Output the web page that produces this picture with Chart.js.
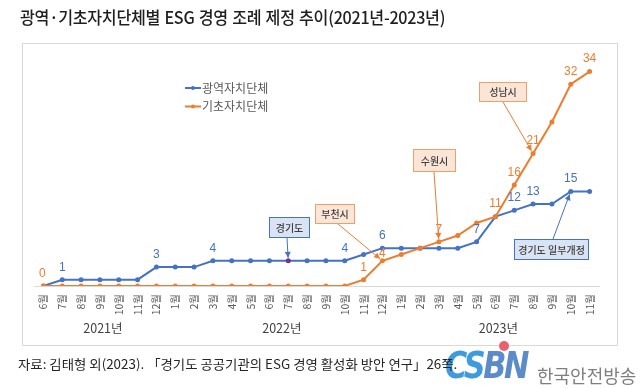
<!DOCTYPE html>
<html><head><meta charset="utf-8">
<script src="https://cdn.jsdelivr.net/npm/chart.js@4.4.1/dist/chart.umd.min.js"></script>
<style>
html,body{margin:0;padding:0;background:#fff;width:640px;height:388px;overflow:hidden;}
#wrap{position:relative;width:640px;height:388px;}
canvas{position:absolute;left:0;top:0;}
.title{position:absolute;left:20px;top:4px;font-family:"Noto Sans CJK KR";font-size:17px;font-weight:500;color:#1f1f1f;white-space:nowrap;transform-origin:left top;transform:scaleX(0.95);letter-spacing:-0.3px;word-spacing:1px;}
.src{position:absolute;left:18px;top:354px;font-family:"Noto Sans CJK KR";font-size:13px;color:#262626;white-space:nowrap;transform-origin:left top;transform:scaleX(1.03);z-index:3;}
.logo{position:absolute;left:445px;top:341px;font-family:"DejaVu Sans";font-weight:bold;font-style:italic;font-size:38px;line-height:48px;letter-spacing:-3px;white-space:nowrap;z-index:2;transform-origin:left top;transform:scaleX(0.8);}
.logo .a{color:#3f9be0}.logo .b{color:#5b8bc8}
.dot{position:absolute;left:499px;top:341px;width:10px;height:10px;border-radius:50%;background:#e8616b;z-index:2;}
.kor{position:absolute;left:537px;top:364px;font-family:"Noto Sans CJK KR";font-size:18px;line-height:22px;color:#7f7f7f;white-space:nowrap;z-index:2;}
</style></head>
<body><div id="wrap">
<canvas id="c" width="640" height="388"></canvas>
<div class="title">광역·기초자치단체별 ESG 경영 조례 제정 추이(2021년-2023년)</div>
<div class="logo"><span class="a">CS</span><span class="b">BN</span></div>
<div class="dot"></div>
<div class="kor">한국안전방송</div>
<div class="src">자료: 김태형 외(2023). 「경기도 공공기관의 ESG 경영 활성화 방안 연구」26쪽.</div>
</div>
<script>
// ---- data ----
const categories = ['6월','7월','8월','9월','10월','11월','12월',
  '1월','2월','3월','4월','5월','6월','7월','8월','9월','10월','11월','12월',
  '1월','2월','3월','4월','5월','6월','7월','8월','9월','10월','11월'];
const yearLabels = ['2021년','2022년','2023년'];
const yearGroupSizes = [7, 12, 11];
const seriesNames = ['광역자치단체','기초자치단체'];
const metroValues = [0,1,1,1,1,1,3,3,3,4,4,4,4,4,4,4,4,5,6,6,6,6,6,7,11,12,13,13,15,15];
const localValues = [0,0,0,0,0,0,0,0,0,0,0,0,0,0,0,0,0,1,4,5,6,7,8,10,11,16,21,26,32,34];
const metroLabelIdx = [1,6,9,16,18,23,25,26,28];
const localLabelIdx = [0,17,18,21,24,25,26,28,29];
const callouts = [
  {text:'경기도', series:0, idx:13},
  {text:'부천시', series:1, idx:18},
  {text:'수원시', series:1, idx:21},
  {text:'성남시', series:1, idx:26},
  {text:'경기도 일부개정', series:0, idx:28}
];

// ---- styles ----
const BLUE = '#4472c4', ORANGE = '#ed7d31';
const calloutStyle = [
  {box:[269,217,41,21], from:[287,238]},
  {box:[315,204,40,20], from:[338,224]},
  {box:[413,149,43,23], from:[434,172]},
  {box:[479,82,48,20], from:[503,102]},
  {box:[514,239,75,21], from:[553,239]}
];

function arrow(ctx, x1, y1, x2, y2, color){
  const ang = Math.atan2(y2-y1, x2-x1);
  const ex = x2 - Math.cos(ang)*3, ey = y2 - Math.sin(ang)*3;
  ctx.strokeStyle = color; ctx.fillStyle = color; ctx.lineWidth = 1;
  ctx.beginPath(); ctx.moveTo(x1,y1); ctx.lineTo(ex,ey); ctx.stroke();
  const h = 6, w = 3;
  ctx.beginPath();
  ctx.moveTo(ex,ey);
  ctx.lineTo(ex - h*Math.cos(ang) + w*Math.sin(ang), ey - h*Math.sin(ang) - w*Math.cos(ang));
  ctx.lineTo(ex - h*Math.cos(ang) - w*Math.sin(ang), ey - h*Math.sin(ang) + w*Math.cos(ang));
  ctx.closePath(); ctx.fill();
}

const extras = {
  id:'extras',
  beforeDraw(chart){
    const ctx = chart.ctx;
    ctx.save();
    ctx.fillStyle = '#fff'; ctx.fillRect(0,0,chart.width,chart.height);
    ctx.strokeStyle = '#d9d9d9'; ctx.lineWidth = 1;
    ctx.strokeRect(22.5,43.5,595,302);
    ctx.restore();
  },
  afterDraw(chart){
    const ctx = chart.ctx;
    const xs = chart.scales.x;
    ctx.save();
    // year group labels
    ctx.font = '12.5px "Noto Sans CJK KR"'; ctx.fillStyle = '#404040';
    ctx.textAlign = 'center'; ctx.textBaseline = 'middle';
    let start = 0;
    yearGroupSizes.forEach((n, k) => {
      const a = xs.getPixelForValue(start), b = xs.getPixelForValue(start+n-1);
      ctx.fillText(yearLabels[k], (a+b)/2 + 3, 328);
      start += n;
    });
    // data labels
    ctx.font = '12px "Liberation Sans"';
    const drawLabels = (ci, idxs, color) => {
      const meta = chart.getDatasetMeta(ci);
      const vals = chart.data.datasets[ci].data;
      ctx.fillStyle = color;
      idxs.forEach(i => {
        const p = meta.data[i];
        const off = (ci === 1 && i === 18) ? 7 : 12.5;
        ctx.fillText(String(vals[i]), p.x - (i===0?1:0), p.y - off);
      });
    };
    drawLabels(0, metroLabelIdx, BLUE);
    drawLabels(1, localLabelIdx, ORANGE);
    // legend
    chart.data.datasets.forEach((ds, k) => {
      const y = 88 + k*18.5;
      ctx.strokeStyle = ds.borderColor; ctx.lineWidth = 2;
      ctx.beginPath(); ctx.moveTo(185,y); ctx.lineTo(201,y); ctx.stroke();
      ctx.fillStyle = ds.borderColor;
      ctx.beginPath(); ctx.arc(193,y,2,0,Math.PI*2); ctx.fill();
      ctx.fillStyle = '#595959'; ctx.font = '12px "Noto Sans CJK KR"';
      ctx.textAlign = 'left'; ctx.textBaseline = 'middle';
      ctx.fillText(ds.label, 202, y);
    });
    // callouts
    callouts.forEach((c, k) => {
      const st = calloutStyle[k];
      const isBlue = c.series === 0;
      const p = chart.getDatasetMeta(c.series).data[c.idx];
      arrow(ctx, st.from[0], st.from[1], p.x, p.y, isBlue ? BLUE : ORANGE);
      const [bx,by,bw,bh] = st.box;
      ctx.fillStyle = isBlue ? '#dae3f3' : '#fbe5d6';
      ctx.fillRect(bx,by,bw,bh);
      ctx.strokeStyle = isBlue ? BLUE : '#f19f68'; ctx.lineWidth = 1;
      ctx.strokeRect(bx+0.5,by+0.5,bw-1,bh-1);
      ctx.fillStyle = '#404040'; ctx.font = '500 10px "Noto Sans CJK KR"';
      ctx.textAlign = 'center'; ctx.textBaseline = 'middle';
      ctx.fillText(c.text, bx+bw/2, by+bh/2+0.5);
    });
    ctx.restore();
  }
};

new Chart(document.getElementById('c'), {
  type:'line',
  data:{
    labels: categories,
    datasets:[
      {label:seriesNames[0], data:metroValues, borderColor:BLUE, backgroundColor:BLUE,
       borderWidth:2, tension:0, order:1, pointRadius:2.5, pointBorderWidth:0,
       pointBackgroundColor:(ctx)=> ctx.dataIndex===13 ? '#7030a0' : BLUE},
      {label:seriesNames[1], data:localValues, borderColor:ORANGE, backgroundColor:ORANGE,
       borderWidth:2, tension:0, order:0, pointRadius:2.5, pointBorderWidth:0,
       pointBackgroundColor:ORANGE}
    ]
  },
  options:{
    responsive:false, animation:false, devicePixelRatio:1,
    layout:{padding:{left:34,right:41,top:59,bottom:0}},
    plugins:{legend:{display:false}, tooltip:{enabled:false}},
    scales:{
      x:{type:'category', offset:true,
         grid:{display:false, drawTicks:false},
         border:{display:true, color:'#d9d9d9', width:1},
         ticks:{autoSkip:false, minRotation:90, maxRotation:90, padding:8,
                color:'#595959', font:{size:10.5, family:'"Noto Sans CJK KR"'}},
         afterFit:(s)=>{ s.height = 102; }},
      y:{display:false, min:0, max:36}
    }
  },
  plugins:[extras]
});
</script>
</body></html>
